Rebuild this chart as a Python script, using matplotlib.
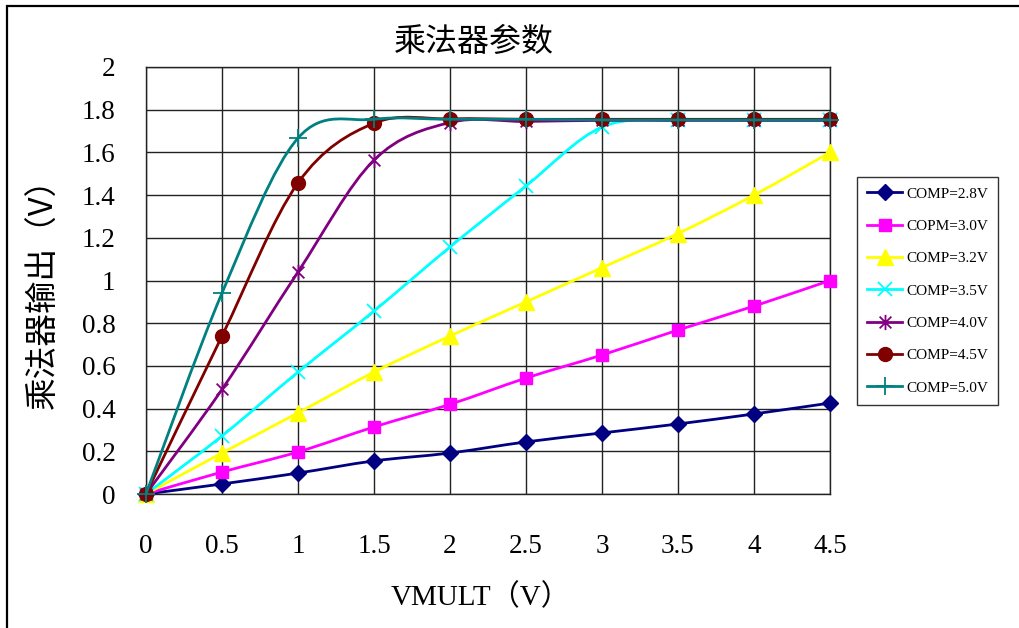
import numpy as np
import matplotlib
matplotlib.use('Agg')
import matplotlib.pyplot as plt
from matplotlib.path import Path
from matplotlib.patches import PathPatch, Rectangle
from matplotlib.lines import Line2D

plt.rcParams['font.family'] = ['Liberation Serif', 'Noto Sans CJK SC', 'DejaVu Sans']

# 数据
vmult = [0, 0.5, 1, 1.5, 2, 2.5, 3, 3.5, 4, 4.5]
comp_28 = [0, 0.047, 0.098, 0.155, 0.192, 0.244, 0.286, 0.328, 0.375, 0.426]
comp_30 = [0, 0.103, 0.197, 0.314, 0.420, 0.543, 0.651, 0.768, 0.880, 1.0]
comp_32 = [0, 0.192, 0.380, 0.571, 0.740, 0.900, 1.060, 1.220, 1.400, 1.600]
comp_35 = [0, 0.272, 0.571, 0.857, 1.157, 1.443, 1.719, 1.750, 1.750, 1.750]
comp_40 = [0, 0.490, 1.040, 1.564, 1.740, 1.745, 1.750, 1.750, 1.750, 1.750]
comp_45 = [0, 0.740, 1.457, 1.737, 1.757, 1.755, 1.755, 1.755, 1.755, 1.755]
comp_50 = [0, 0.941, 1.667, 1.755, 1.755, 1.755, 1.752, 1.752, 1.752, 1.752]

labels = ['COMP=2.8V', 'COPM=3.0V', 'COMP=3.2V', 'COMP=3.5V',
          'COMP=4.0V', 'COMP=4.5V', 'COMP=5.0V']
xticklabels = ['0', '0.5', '1', '1.5', '2', '2.5', '3', '3.5', '4', '4.5']
yticks = [0, 0.2, 0.4, 0.6, 0.8, 1, 1.2, 1.4, 1.6, 1.8, 2]
yticklabels = ['0', '0.2', '0.4', '0.6', '0.8', '1', '1.2', '1.4', '1.6', '1.8', '2']

# excel 那种星号: X 加一条竖线
star = Path([(-1, -1), (1, 1), (-1, 1), (1, -1), (0, -1.3), (0, 1.3)],
            [Path.MOVETO, Path.LINETO, Path.MOVETO, Path.LINETO, Path.MOVETO, Path.LINETO])

styles = [
    dict(color='#000080', marker='D', ms=8, mfc='#000080', mec='#000080'),
    dict(color='#ff00ff', marker='s', ms=9, mfc='#ff00ff', mec='#ff00ff'),
    dict(color='#ffff00', marker='^', ms=11, mfc='#ffff00', mec='#ffff00'),
    dict(color='#00ffff', marker='x', ms=10, mfc='none', mec='#00ffff', mew=1.3),
    dict(color='#800080', marker=star, ms=11, mfc='none', mec='#800080', mew=1.3),
    dict(color='#800000', marker='o', ms=10, mfc='#800000', mec='#800000'),
    dict(color='#008080', marker='+', ms=13, mfc='none', mec='#008080', mew=1.3),
]


# 平滑线, 跟excel一样用bezier (catmull-rom控制点)
def smooth_path(xs, ys):
    pts = np.column_stack([xs, ys]).astype(float)
    n = len(pts)
    verts = [pts[0]]
    codes = [Path.MOVETO]
    for i in range(n - 1):
        p0 = pts[max(i - 1, 0)]
        p1 = pts[i]
        p2 = pts[i + 1]
        p3 = pts[min(i + 2, n - 1)]
        verts += [p1 + (p2 - p0) / 6, p2 - (p3 - p1) / 6, p2]
        codes += [Path.CURVE4] * 3
    return Path(verts, codes)


fig = plt.figure(figsize=(10.19, 6.28), dpi=100)
ax = fig.add_axes([146 / 1019, 1 - 494 / 628, (830 - 146) / 1019, (494 - 67) / 628])

series = [comp_28, comp_30, comp_32, comp_35, comp_40, comp_45, comp_50]
handles = []
for k, (ys, st) in enumerate(zip(series, styles)):
    patch = PathPatch(smooth_path(vmult, ys), facecolor='none', edgecolor=st['color'],
                      lw=2.0, zorder=3 + k * 0.1, clip_on=False)
    ax.add_patch(patch)
    mk = {key: v for key, v in st.items() if key != 'color'}
    ax.plot(vmult, ys, ls='none', zorder=3.05 + k * 0.1, clip_on=False, **mk)
    handles.append(Line2D([], [], color=st['color'], lw=2.0, **mk))

ax.set_xlim(0, 4.5)
ax.set_ylim(0, 2)
ax.set_xticks(vmult)
ax.set_xticklabels(xticklabels)
ax.set_yticks(yticks)
ax.set_yticklabels(yticklabels)
ax.tick_params(axis='both', length=0, labelsize=19.5)
ax.tick_params(axis='x', pad=29)
ax.tick_params(axis='y', pad=22)
ax.grid(True, color='#222222', lw=1.0)
ax.set_axisbelow(True)
for sp in ax.spines.values():
    sp.set_color('#222222')
    sp.set_linewidth(1.0)

fig.text(474 / 1019, 1 - 42 / 628, '乘法器参数', fontsize=23, ha='center', va='center',
         family=['Noto Sans CJK SC'])
fig.text(44 / 1019, 1 - 285 / 628, '乘法器输出（V）', fontsize=23.5, ha='center', va='center',
         rotation=90, family=['Noto Sans CJK SC'])
fig.text(481 / 1019, 1 - 597 / 628, 'VMULT（V）', fontsize=21, ha='center', va='center')

leg = ax.legend(handles, labels, loc='upper left',
                bbox_to_anchor=(857 / 1019, 1 - 177 / 628), bbox_transform=fig.transFigure,
                fontsize=11, frameon=True, fancybox=False, edgecolor='black',
                handlelength=2.3, handletextpad=0.25, labelspacing=1.22,
                borderpad=0.65, borderaxespad=0)
leg.get_frame().set_linewidth(1.0)

# 外框
fig.patches.append(Rectangle((7 / 1019, -0.1), 1.1, 1 - 6 / 628 + 0.1, fill=False,
                             edgecolor='black', lw=1.6, transform=fig.transFigure))

fig.savefig('out.png', dpi=100)
